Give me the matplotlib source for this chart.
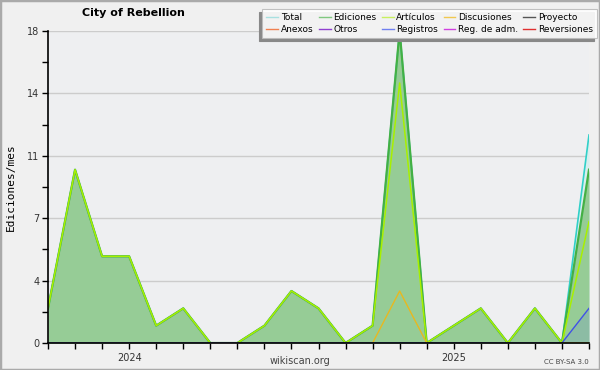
import numpy as np
import matplotlib
matplotlib.use('Agg')
import matplotlib.pyplot as plt
from matplotlib.lines import Line2D
from matplotlib.patches import Rectangle

# monthly edits, Oct 2023 .. Jun 2025
months = ['2023-10', '2023-11', '2023-12', '2024-01', '2024-02', '2024-03',
          '2024-04', '2024-05', '2024-06', '2024-07', '2024-08', '2024-09',
          '2024-10', '2024-11', '2024-12', '2025-01', '2025-02', '2025-03',
          '2025-04', '2025-05', '2025-06']
total = [2, 10, 5, 5, 1, 2, 0, 0, 1, 3, 2, 0, 1, 18, 0, 1, 2, 0, 2, 0, 12]
ediciones = [2, 10, 5, 5, 1, 2, 0, 0, 1, 3, 2, 0, 1, 18, 0, 1, 2, 0, 2, 0, 10]
articulos = [2, 10, 5, 5, 1, 2, 0, 0, 1, 3, 2, 0, 1, 15, 0, 1, 2, 0, 2, 0, 7]
discusiones = [0, 0, 0, 0, 0, 0, 0, 0, 0, 0, 0, 0, 0, 3, 0, 0, 0, 0, 0, 0, 0]
registros = [0, 0, 0, 0, 0, 0, 0, 0, 0, 0, 0, 0, 0, 0, 0, 0, 0, 0, 0, 0, 2]

ytick_vals = [0, 3.6, 7.2, 10.8, 14.4, 18]
ytick_labels = ['0', '4', '7', '11', '14', '18']
year_labels = {'2024-01': '2024', '2025-01': '2025'}

legend_items = [('Total', '#a8e0e0'), ('Anexos', '#f08050'),
                ('Ediciones', '#80c880'), ('Otros', '#9040d0'),
                ('Artículos', '#c8f060'), ('Registros', '#7080f0'),
                ('Discusiones', '#f0c850'), ('Reg. de adm.', '#d040e0'),
                ('Proyecto', '#555555'), ('Reversiones', '#e03030')]

x = np.arange(len(months))

fig = plt.figure(figsize=(6, 3.7), dpi=100)
fig.patch.set_facecolor('#f0f0f0')
ax = fig.add_axes([48/600, 27/370, 541/600, 312/370])
ax.set_facecolor('#eeeff1')

ax.fill_between(x, total, color='#d8eeee', lw=0, zorder=1)
ax.fill_between(x, ediciones, color='#96cc96', lw=0, zorder=2)
ax.fill_between(x, registros, color='#7090d0', alpha=0.25, lw=0, zorder=3)
ax.plot(x, total, color='#30d0c8', lw=1.2, zorder=4)
ax.plot(x, ediciones, color='#44b044', lw=1.6, zorder=5)
ax.plot(x, articulos, color='#a8f000', lw=1.1, zorder=6)
ax.plot(x, discusiones, color='#e8b820', lw=1.0, zorder=7)
ax.plot(x, registros, color='#4050e8', lw=1.0, zorder=8)

ax.set_xlim(0, len(months) - 1)
ax.set_ylim(0, 18)
ax.set_yticks(ytick_vals)
ax.set_yticklabels(ytick_labels)
ax.set_yticks(np.arange(1.8, 18, 3.6), minor=True)
ax.set_xticks(x)
ax.set_xticklabels([year_labels.get(m, '') for m in months])
ax.tick_params(axis='both', which='both', direction='out', length=4,
               width=1, labelsize=7, colors='black', labelcolor='#333333', pad=2)
ax.tick_params(axis='x', pad=3)
ax.grid(axis='y', which='major', color='#cccccc', lw=1)
ax.set_axisbelow(True)
for s in ['top', 'right']:
    ax.spines[s].set_visible(False)
for s in ['left', 'bottom']:
    ax.spines[s].set_zorder(10)
    ax.spines[s].set_linewidth(1.2)
ax.set_ylabel('Ediciones/mes', fontsize=8, fontfamily='DejaVu Sans Mono', labelpad=8)

fig.text(133/600, 1 - 13/370, 'City of Rebellion', ha='center', va='center',
         fontsize=8, fontweight='bold')
fig.text(300/600, 1 - 361/370, 'wikiscan.org', ha='center', va='center',
         fontsize=7, color='#444444')
fig.text(589/600, 1 - 362/370, 'CC BY-SA 3.0', ha='right', va='center',
         fontsize=5, color='#444444')

handles = [Line2D([], [], color=c, lw=1) for _, c in legend_items]
labels = [n for n, _ in legend_items]
leg = fig.legend(handles, labels, ncol=5, loc='upper right',
                 bbox_to_anchor=(597/600, 1 - 9/370), fontsize=6.5,
                 frameon=True, fancybox=False, framealpha=0.9,
                 facecolor='white', edgecolor='#bbbbbb',
                 shadow={'ox': -2.2, 'oy': -2.2, 'color': '#888888', 'alpha': 1},
                 handlelength=1.3, handletextpad=0.3, columnspacing=0.6,
                 labelspacing=0.3, borderpad=0.45, borderaxespad=0)
leg.get_frame().set_linewidth(0.8)

fig.patches.append(Rectangle((0, 0), 1, 1, transform=fig.transFigure,
                             fill=False, edgecolor='#aaaaaa', lw=2.5))

plt.savefig('out.png', dpi=100, facecolor=fig.get_facecolor())
